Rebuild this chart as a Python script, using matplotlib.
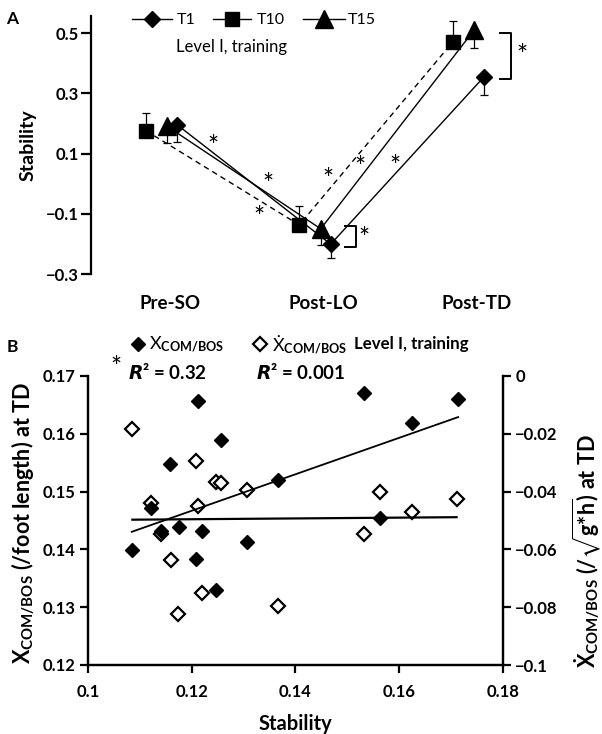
import matplotlib
matplotlib.use('Agg')
import matplotlib.pyplot as plt
from matplotlib.lines import Line2D
from matplotlib.ticker import FixedLocator, FuncFormatter
import numpy as np

plt.rcParams['font.family'] = ['Lato', 'DejaVu Sans']
plt.rcParams['mathtext.fontset'] = 'custom'
plt.rcParams['mathtext.rm'] = 'Lato'
plt.rcParams['mathtext.bf'] = 'Lato:bold'
plt.rcParams['mathtext.it'] = 'Lato:italic'
plt.rcParams['mathtext.fallback'] = 'stix'

# ---------------- Panel A data ----------------
phases = ['Pre-SO', 'Post-LO', 'Post-TD']
series_names = ['T1', 'T10', 'T15']
t1_mean = [0.195, -0.201, 0.355]
t1_err = [0.058, 0.047, 0.060]      # drawn downward
t10_mean = [0.176, -0.137, 0.470]
t10_err = [0.060, 0.064, 0.070]     # drawn upward
t15_mean = [0.190, -0.150, 0.510]
t15_err = [0.055, 0.055, 0.060]     # drawn downward
a_yticks = [-0.3, -0.1, 0.1, 0.3, 0.5]

# ---------------- Panel B data ----------------
stab_filled = [0.1084, 0.1121, 0.1140, 0.1158, 0.1175, 0.1212, 0.1207, 0.1219,
               0.1247, 0.1257, 0.1307, 0.1367, 0.1532, 0.1563, 0.1624, 0.1714]
xcom = [0.1399, 0.1471, 0.1432, 0.1547, 0.1439, 0.1656, 0.1384, 0.1432,
        0.1330, 0.1589, 0.1413, 0.1520, 0.1670, 0.1454, 0.1619, 0.1661]
stab_open = [0.1085, 0.1121, 0.1140, 0.1159, 0.1174, 0.1208, 0.1212, 0.1219,
             0.1246, 0.1257, 0.1306, 0.1367, 0.1532, 0.1563, 0.1624, 0.1711]
vcom = [-0.0185, -0.0441, -0.0547, -0.0637, -0.0824, -0.0293, -0.0450, -0.0752,
        -0.0368, -0.0371, -0.0394, -0.0796, -0.0547, -0.0403, -0.0472, -0.0426]
b_xticks = [0.1, 0.12, 0.14, 0.16, 0.18]
b_yticks_left = [0.12, 0.13, 0.14, 0.15, 0.16, 0.17]
b_yticks_right = [-0.1, -0.08, -0.06, -0.04, -0.02, 0]

W, H = 602, 734
fig = plt.figure(figsize=(W / 100, H / 100), dpi=100)

def fr(x0, y0, x1, y1):
    return [x0 / W, 1 - y1 / H, (x1 - x0) / W, (y1 - y0) / H]

def fx(x):
    return x / W

def fy(y):
    return 1 - y / H

def key(x0, x1, y, **mk):
    if x1 > x0:
        fig.add_artist(Line2D([fx(x0), fx(x1)], [fy(y), fy(y)], transform=fig.transFigure,
                              color='black', lw=1.0))
    fig.add_artist(Line2D([fx((x0 + x1) / 2)], [fy(y)], transform=fig.transFigure,
                          ls='none', **mk))

# ================= Panel A =================
axA = fig.add_axes(fr(91, 15.7, 540, 274))
xs = np.arange(len(phases))
offs = {'T10': -0.16, 'T15': -0.02, 'T1': 0.045}
z = np.zeros(3)
eb = dict(fmt='none', ecolor='black', elinewidth=0.9, capsize=3, capthick=0.9, zorder=2)
axA.errorbar(xs + offs['T10'], t10_mean, yerr=[z, t10_err], **eb)
axA.errorbar(xs + offs['T15'], t15_mean, yerr=[t15_err, z], **eb)
axA.errorbar(xs + offs['T1'], t1_mean, yerr=[t1_err, z], **eb)
mk_t1 = dict(marker='D', ms=7.8, mfc='black', mec='black')
mk_t10 = dict(marker='s', ms=10, mfc='black', mec='black')
mk_t15 = dict(marker='^', ms=13, mfc='black', mec='black')
axA.plot(xs + offs['T10'], t10_mean, color='black', ls=(0, (4, 3)), lw=1.0, zorder=3, **mk_t10)
axA.plot(xs + offs['T15'], t15_mean, color='black', ls='-', lw=1.0, zorder=3, **mk_t15)
axA.plot(xs + offs['T1'], t1_mean, color='black', ls='-', lw=1.0, zorder=4, **mk_t1)

axA.set_xlim((91 - 170.5) / 153.3, (540 - 170.5) / 153.3)
axA.set_ylim(-0.3, 0.558)
for s in ['top', 'right', 'bottom']:
    axA.spines[s].set_visible(False)
axA.spines['left'].set_linewidth(1.6)
axA.yaxis.set_major_locator(FixedLocator(a_yticks))
axA.yaxis.set_major_formatter(FuncFormatter(lambda v, p: f'{v:.1f}'.replace('-', '\u2212')))
axA.tick_params(axis='y', direction='out', length=7, width=1.6, labelsize=12, pad=2)
for lab in axA.get_yticklabels():
    lab.set_fontweight('bold')
axA.set_xticks(xs)
axA.set_xticklabels(phases, fontsize=13.5, fontweight='bold')
axA.tick_params(axis='x', length=0, pad=15)
axA.set_ylabel('Stability', fontsize=14, fontweight='bold')
axA.yaxis.set_label_coords((37 - 91) / 449, 0.5)

# legend A (manual keys)
key(132, 172, 19, **mk_t1)
key(213, 251, 19, **mk_t10)
key(303, 345, 19, **mk_t15)
for tx, name in zip([177, 257, 348], series_names):
    fig.text(fx(tx), fy(20), name, fontsize=11.5, ha='left', va='center')
fig.text(fx(176), fy(47), 'Level I, training', fontsize=12, ha='left', va='center')

# stars & brackets
stars_A = [(0.275, 0.1346), (0.6375, 0.0093), (0.575, -0.098), (1.025, 0.027),
           (1.2375, 0.068), (1.4625, 0.0714), (1.2625, -0.168), (2.2925, 0.439)]
for sx, sy in stars_A:
    axA.text(sx, sy - 0.016, '*', fontsize=19, ha='center', va='center')
axA.plot([1.1375, 1.2075, 1.2075, 1.1375], [-0.140, -0.140, -0.211, -0.211], color='black', lw=1.4)
axA.plot([2.15, 2.22, 2.22, 2.15], [0.502, 0.502, 0.349, 0.349], color='black', lw=1.4)
fig.text(fx(6), fy(19), 'A', fontsize=12.5, fontweight='bold', ha='left', va='center')

# ================= Panel B =================
axB = fig.add_axes(fr(88.3, 376, 502.7, 665))
axB2 = axB.twinx()
axB.set_zorder(axB2.get_zorder() + 1)
axB.patch.set_visible(False)

mk_open = dict(marker='D', ms=7.3, mfc='white', mec='black', mew=1.6)
mk_fill = dict(marker='D', ms=7.6, mfc='black', mec='black')
axB2.plot(stab_open, vcom, ls='none', **mk_open)
cv = np.polyfit(stab_open, vcom, 1)
xo = np.array([min(stab_open), max(stab_open)])
axB2.plot(xo, np.polyval(cv, xo), color='black', lw=1.6)

axB.plot(stab_filled, xcom, ls='none', **mk_fill)
cf = np.polyfit(stab_filled, xcom, 1)
xf = np.array([min(stab_filled), max(stab_filled)])
axB.plot(xf, np.polyval(cf, xf), color='black', lw=1.3)

axB.set_xlim(0.1, 0.18)
axB.set_ylim(0.12, 0.17)
axB2.set_ylim(-0.1, 0)
for a in (axB, axB2):
    a.spines['top'].set_visible(False)
    for s in ['left', 'right', 'bottom']:
        a.spines[s].set_linewidth(1.6)
axB.xaxis.set_major_locator(FixedLocator(b_xticks))
axB.yaxis.set_major_locator(FixedLocator(b_yticks_left))
axB2.yaxis.set_major_locator(FixedLocator(b_yticks_right))
fmtg = FuncFormatter(lambda v, p: ('%g' % round(v, 4)).replace('-', '\u2212'))
axB.xaxis.set_major_formatter(fmtg)
axB.yaxis.set_major_formatter(fmtg)
axB2.yaxis.set_major_formatter(fmtg)
axB.tick_params(axis='x', direction='out', length=6, width=1.6, labelsize=12, pad=8)
axB.tick_params(axis='y', direction='out', length=6, width=1.6, labelsize=12, pad=3)
axB2.tick_params(axis='y', direction='out', length=6, width=1.6, labelsize=12, pad=3)
for lab in axB.get_xticklabels() + axB.get_yticklabels() + axB2.get_yticklabels():
    lab.set_fontweight('bold')
axB.set_xlabel('Stability', fontsize=14.5, fontweight='bold', labelpad=10)
axB.set_ylabel(r'X$_{\mathbf{COM/BOS}}$ (/foot length) at TD', fontsize=15.5,
               fontweight='bold')
axB.yaxis.set_label_coords((37 - 88.3) / 414.4, (665 - 523.5) / 289)
axB2.set_ylabel('\u1E8A' + r'$_{\mathbf{COM/BOS}}$ (/$\sqrt{\mathbf{g{*}h}}$) at TD',
                fontsize=15.5, fontweight='bold')
axB2.yaxis.set_label_coords((570 - 88.3) / 414.4, (665 - 551) / 289)

# legend B (manual keys)
key(138, 138, 344, **mk_fill)
key(260, 260, 344, **mk_open)
fig.text(fx(149), fy(344), r'X$_{\mathbf{COM/BOS}}$', fontsize=13, ha='left', va='center')
fig.text(fx(272), fy(344), '\u1E8A' + r'$_{\mathbf{COM/BOS}}$', fontsize=13, ha='left', va='center')
fig.text(fx(354), fy(344), 'Level I, training', fontsize=12.2, fontweight='bold',
         ha='left', va='center')
fig.text(fx(116), fy(368), '*', fontsize=19, ha='center', va='center')
fig.text(fx(128), fy(372), r'$\mathbfit{R}$' + '\u00b2 = 0.32', fontsize=13.5,
         fontweight='bold', ha='left', va='center')
fig.text(fx(256), fy(372), r'$\mathbfit{R}$' + '\u00b2 = 0.001', fontsize=13.5,
         fontweight='bold', ha='left', va='center')
fig.text(fx(7), fy(347), 'B', fontsize=12.5, fontweight='bold', ha='left', va='center')

fig.savefig('out.png', dpi=100)
